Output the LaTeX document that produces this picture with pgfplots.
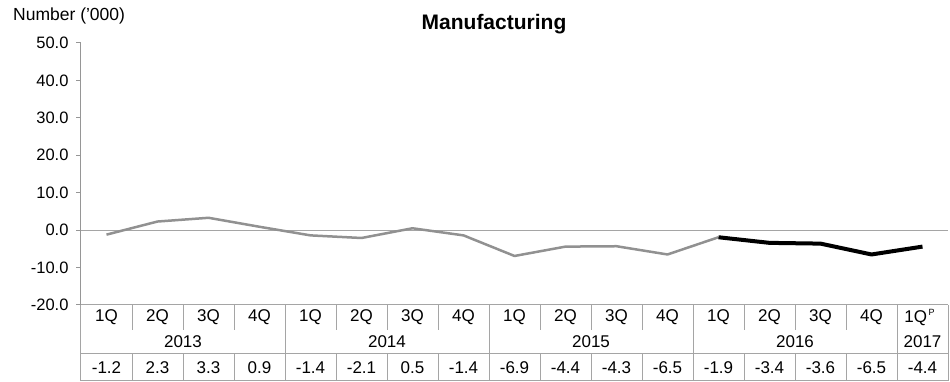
\documentclass[border=0pt]{standalone}
\usepackage{pgfplots}
\pgfplotsset{compat=1.18}
\usepackage{fontspec}
\setmainfont{Liberation Sans}
\definecolor{axgray}{RGB}{150,150,150}
\definecolor{lngray}{RGB}{145,145,145}
\definecolor{tblgray}{RGB}{165,165,165}
\begin{document}
\begin{tikzpicture}
\begin{axis}[
  at={(0,0)}, anchor=south west,
  scale only axis, width=867pt, height=262pt,
  xmin=-0.5, xmax=16.5, ymin=-20, ymax=50,
  xtick=\empty,
  ytick={-20,-10,0,10,20,30,40,50},
  yticklabels={-20.0,-10.0,0.0,10.0,20.0,30.0,40.0,50.0},
  yticklabel style={font=\fontsize{16.5}{18}\selectfont, xshift=-4pt},
  tick align=outside, major tick length=5pt,
  tick style={axgray, line width=1pt},
  axis x line=none,
  axis y line*=left,
  axis line style={axgray, line width=1pt, -},
  clip=false,
]
\addplot[tblgray, line width=0.8pt, forget plot] coordinates {(-0.5,0) (16.5,0)};
\addplot[lngray, line width=2.5pt, line join=round] coordinates {
(0,-1.2) (1,2.3) (2,3.3) (3,0.9) (4,-1.4) (5,-2.1) (6,0.5) (7,-1.4)
(8,-6.9) (9,-4.4) (10,-4.3) (11,-6.5) (12,-1.9)};
\addplot[black, line width=4pt, line join=round] coordinates {
(12,-1.9) (13,-3.4) (14,-3.6) (15,-6.5) (16,-4.4)};
\end{axis}
% table
\begin{scope}[tblgray, line width=1pt]
\draw (0,0) -- (867pt,0);
\draw (0,-49pt) -- (867pt,-49pt);
\draw (0,-76pt) -- (867pt,-76pt);
\draw (0,0) -- (0,-76pt);
\draw (867pt,0) -- (867pt,-76pt);
\foreach \i in {1,2,3,5,6,7,9,10,11,13,14,15} { \draw (\i*51pt,0) -- (\i*51pt,-25pt); }
\foreach \i in {4,8,12,16} { \draw (\i*51pt,0) -- (\i*51pt,-49pt); }
\foreach \i in {1,...,16} { \draw (\i*51pt,-49pt) -- (\i*51pt,-76pt); }
\end{scope}
\foreach \i/\q in {0/1Q,1/2Q,2/3Q,3/4Q,4/1Q,5/2Q,6/3Q,7/4Q,8/1Q,9/2Q,10/3Q,11/4Q,12/1Q,13/2Q,14/3Q,15/4Q} {
  \node[font=\fontsize{17}{18}\selectfont, inner sep=0pt] at (\i*51pt+25.5pt,-12.5pt) {\q};
}
\node[font=\fontsize{17}{18}\selectfont, inner sep=0pt] at (16*51pt+22.5pt,-12.5pt) {1Q\raisebox{7pt}{\fontsize{9}{10}\selectfont\,P}};
\foreach \i/\yr in {2/2013,6/2014,10/2015,14/2016} {
  \node[font=\fontsize{17}{18}\selectfont, inner sep=0pt] at (\i*51pt,-37pt) {\yr};
}
\node[font=\fontsize{17}{18}\selectfont, inner sep=0pt] at (16*51pt+25.5pt,-37pt) {2017};
\foreach \i/\v in {0/-1.2,1/2.3,2/3.3,3/0.9,4/-1.4,5/-2.1,6/0.5,7/-1.4,8/-6.9,9/-4.4,10/-4.3,11/-6.5,12/-1.9,13/-3.4,14/-3.6,15/-6.5,16/-4.4} {
  \node[font=\fontsize{17}{18}\selectfont, inner sep=0pt] at (\i*51pt+25.5pt,-63pt) {\v};
}
\node[font=\bfseries\fontsize{21}{24}\selectfont, inner sep=0pt] at (413pt,281pt) {Manufacturing};
\node[font=\fontsize{17.5}{18}\selectfont, anchor=west, inner sep=0pt] at (-68pt,289pt) {Number ('000)};
\pgfresetboundingbox
\path[use as bounding box] (-81pt,-77pt) rectangle (869pt,305pt);
\end{tikzpicture}
\end{document}
